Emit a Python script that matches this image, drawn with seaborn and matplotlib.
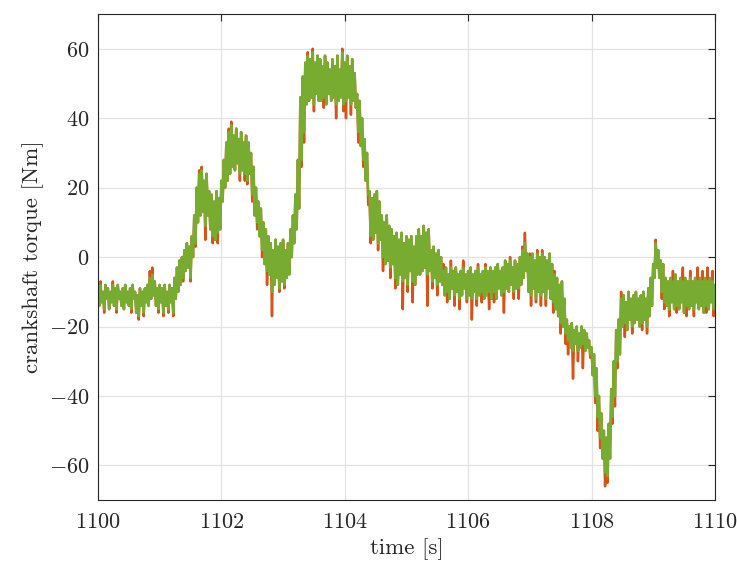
import numpy as np
import pandas as pd
import matplotlib
matplotlib.use("Agg")
import matplotlib.pyplot as plt
import seaborn as sns

# torque samples every 0.02 s (1100.00 ... 1110.00)
torque_green = [
    -9, -14, -8, -13, -10, -15, -8, -12, -9, -15, -10, -13, -8, -14, -9, -15, -8, -12, -10, -14,
    -9, -15, -8, -13, -10, -14, -9, -15, -8, -12, -10, -16, -11, -17, -9, -14, -10, -16, -9, -13,
    -8, -14, -6, -12, -5, -11, -7, -14, -9, -15, -8, -13, -9, -16, -8, -14, -10, -15, -8, -13,
    -9, -16, -6, -12, -3, -10, -1, -8, 0, -6, 2, -4, 4, -3, 3, -6, 6, 0, 12, 4,
    20, 10, 24, 12, 25, 13, 22, 9, 24, 12, 19, 8, 18, 6, 16, 5, 19, 7, 17, 8,
    22, 16, 28, 20, 33, 22, 36, 24, 38, 26, 35, 25, 37, 27, 34, 24, 36, 25, 33, 24,
    35, 22, 33, 24, 30, 18, 26, 12, 20, 10, 16, 6, 14, 2, 10, -2, 8, -4, 6, -5,
    4, -10, 2, -8, 5, -6, 3, -9, 4, -7, 5, -8, 2, -6, 4, -5, 8, 0, 12, 4,
    18, 8, 28, 14, 46, 28, 52, 36, 56, 44, 58, 45, 57, 46, 59, 44, 56, 47, 58, 45,
    57, 45, 55, 46, 58, 44, 56, 47, 54, 45, 57, 46, 55, 44, 58, 45, 54, 46, 59, 44,
    56, 45, 58, 46, 55, 44, 57, 45, 53, 43, 47, 36, 45, 32, 40, 28, 34, 22, 30, 18,
    19, 6, 17, 5, 18, 7, 19, 4, 16, 5, 12, 0, 10, -2, 12, -1, 9, -3, 8, -2,
    6, -6, 7, -8, 5, -5, 7, -7, 4, -6, 6, -8, 5, -4, 6, -7, 3, -8, 6, -5,
    8, -5, 6, -4, 9, -3, 7, -5, 8, -4, 2, -7, 3, -6, 1, -8, 2, -7, 0, -8,
    -4, -11, -3, -10, -5, -12, -3, -9, -4, -11, -3, -10, -5, -12, -4, -11, -3, -9, -5, -12,
    -4, -11, -3, -12, -5, -10, -4, -12, -3, -11, -5, -10, -4, -12, -3, -11, -4, -10, -3, -12,
    -4, -10, -3, -12, -2, -9, -4, -11, -3, -10, -1, -9, -2, -10, -1, -8, -3, -10, -1, -9,
    -2, -9, 0, -8, 2, -6, 4, -4, 1, -10, 0, -11, 1, -9, -1, -12, 1, -10, 0, -11,
    1, -10, 0, -12, -1, -9, 1, -12, -2, -13, -5, -15, -6, -17, -8, -19, -7, -20, -12, -22,
    -18, -24, -20, -26, -19, -27, -21, -25, -20, -27, -22, -26, -20, -25, -21, -27, -22, -26, -24, -28,
    -26, -34, -28, -40, -32, -46, -40, -52, -45, -58, -50, -62, -52, -63, -48, -58, -38, -46, -30, -40,
    -21, -30, -18, -28, -12, -20, -11, -19, -13, -21, -10, -18, -12, -20, -11, -19, -10, -18, -12, -20,
    -11, -19, -10, -18, -12, -20, -9, -17, -6, -14, -2, -6, 4, -3, 2, -6, -1, -10, -2, -13,
    -6, -14, -7, -15, -6, -13, -7, -15, -5, -14, -7, -15, -6, -13, -7, -16, -6, -14, -7, -15,
    -6, -14, -7, -15, -6, -13, -7, -15, -6, -14, -7, -16, -6, -14, -7, -15, -6, -13, -7, -15,
    -8,
]

torque_orange = [
    -8, -14, -7, -13, -10, -16, -8, -12, -9, -15, -10, -13, -7, -14, -9, -16, -8, -12, -10, -14,
    -9, -15, -8, -13, -10, -14, -9, -16, -8, -12, -10, -16, -11, -18, -9, -14, -10, -17, -9, -13,
    -8, -14, -4, -12, -3, -11, -7, -14, -9, -16, -8, -13, -9, -17, -8, -14, -10, -16, -8, -13,
    -9, -17, -6, -12, -3, -10, -1, -8, 0, -7, 2, -4, 4, -3, 3, -7, 6, 0, 12, 3,
    20, 10, 25, 12, 26, 13, 22, 5, 24, 12, 19, 8, 18, 4, 16, 5, 19, 4, 17, 8,
    22, 16, 28, 20, 33, 22, 37, 24, 39, 26, 35, 25, 37, 27, 34, 22, 36, 25, 33, 22,
    35, 21, 33, 24, 30, 16, 26, 12, 20, 8, 16, 6, 14, 0, 10, -2, 8, -8, 6, -5,
    4, -17, 2, -8, 5, -6, 3, -10, 4, -7, 5, -9, 2, -6, 4, -5, 8, 0, 12, 4,
    18, 8, 28, 14, 46, 26, 52, 33, 56, 44, 59, 45, 57, 46, 60, 42, 56, 47, 58, 45,
    57, 45, 55, 43, 58, 44, 56, 47, 54, 45, 57, 46, 55, 40, 58, 45, 54, 46, 60, 42,
    56, 40, 58, 46, 55, 41, 57, 45, 53, 43, 47, 33, 45, 32, 40, 26, 34, 22, 30, 15,
    19, 4, 17, 5, 18, 7, 19, 2, 16, 5, 12, -4, 10, -2, 12, -1, 9, -6, 8, -2,
    6, -9, 7, -8, 5, -5, 7, -15, 4, -6, 6, -10, 5, -4, 6, -13, 3, -8, 6, -5,
    8, -5, 6, -4, 9, -3, 7, -14, 8, -4, 2, -9, 3, -6, 1, -11, 2, -7, 0, -8,
    -2, -11, -3, -13, -5, -12, -1, -9, -4, -14, -3, -10, -5, -15, -4, -11, -1, -9, -5, -13,
    -4, -11, -3, -18, -5, -10, -4, -14, -2, -11, -5, -13, -4, -12, -2, -11, -4, -15, -3, -12,
    -4, -13, -3, -12, -2, -9, -4, -11, -3, -16, -1, -9, -2, -10, 0, -8, -3, -12, -1, -9,
    -2, -12, 0, -8, 3, -6, 7, -4, 1, -10, 1, -14, 1, -9, -1, -13, 2, -10, 0, -14,
    2, -10, 0, -14, -1, -9, 1, -12, -2, -16, -4, -15, -6, -17, -8, -22, -7, -20, -12, -25,
    -18, -28, -20, -26, -19, -35, -21, -25, -20, -30, -22, -26, -20, -32, -21, -27, -22, -26, -24, -29,
    -26, -34, -28, -42, -32, -50, -40, -55, -45, -58, -50, -66, -52, -65, -48, -58, -38, -48, -30, -43,
    -21, -32, -18, -28, -10, -20, -11, -23, -13, -21, -10, -18, -12, -22, -11, -19, -10, -18, -12, -20,
    -11, -21, -10, -18, -12, -22, -9, -17, -6, -14, -2, -6, 5, -3, 2, -6, -1, -12, -2, -15,
    -6, -14, -7, -17, -6, -13, -4, -15, -5, -16, -7, -15, -6, -13, -3, -16, -6, -17, -7, -15,
    -4, -14, -7, -17, -6, -13, -3, -15, -6, -14, -4, -16, -6, -16, -3, -15, -6, -13, -4, -17,
    -9,
]

time_s = np.linspace(1100, 1110, len(torque_green))
x_ticks = [1100, 1102, 1104, 1106, 1108, 1110]
y_ticks = [-60, -40, -20, 0, 20, 40, 60]

c_orange = "#D95319"
c_green = "#77AC30"

sns.set_style("white")
plt.rcParams["font.family"] = ["cmr10"]
plt.rcParams["mathtext.fontset"] = "cm"
plt.rcParams["axes.formatter.use_mathtext"] = True
plt.rcParams["axes.unicode_minus"] = True

df = pd.DataFrame({
    "t": np.concatenate([time_s, time_s]),
    "torque": torque_orange + torque_green,
    "signal": ["orange"] * len(time_s) + ["green"] * len(time_s),
})

fig = plt.figure(figsize=(7.37, 5.62), dpi=100)
ax = fig.add_axes([0.133, 0.110, 0.837, 0.865])

sns.lineplot(data=df[df["signal"] == "orange"], x="t", y="torque",
             color=c_orange, linewidth=1.8, estimator=None, ax=ax)
sns.lineplot(data=df[df["signal"] == "green"], x="t", y="torque",
             color=c_green, linewidth=1.8, estimator=None, ax=ax)

ax.set_xlim(1100, 1110)
ax.set_ylim(-70, 70)
ax.set_xticks(x_ticks)
ax.set_yticks(y_ticks)
ax.grid(True, color="#e3e3e3", linewidth=0.9)
ax.set_axisbelow(True)
ax.tick_params(direction="in", top=True, right=True, length=5, pad=6,
               width=0.8, color="#262626", labelsize=16, labelcolor="#262626")
ax.tick_params(axis="x", pad=9)
for s in ax.spines.values():
    s.set_color("#262626")
    s.set_linewidth(0.8)

ax.set_xlabel("time [s]", fontsize=16.5, color="#262626", labelpad=4)
ax.set_ylabel("crankshaft torque [Nm]", fontsize=16.5, color="#262626", labelpad=4)

fig.savefig("out.png", dpi=100)
